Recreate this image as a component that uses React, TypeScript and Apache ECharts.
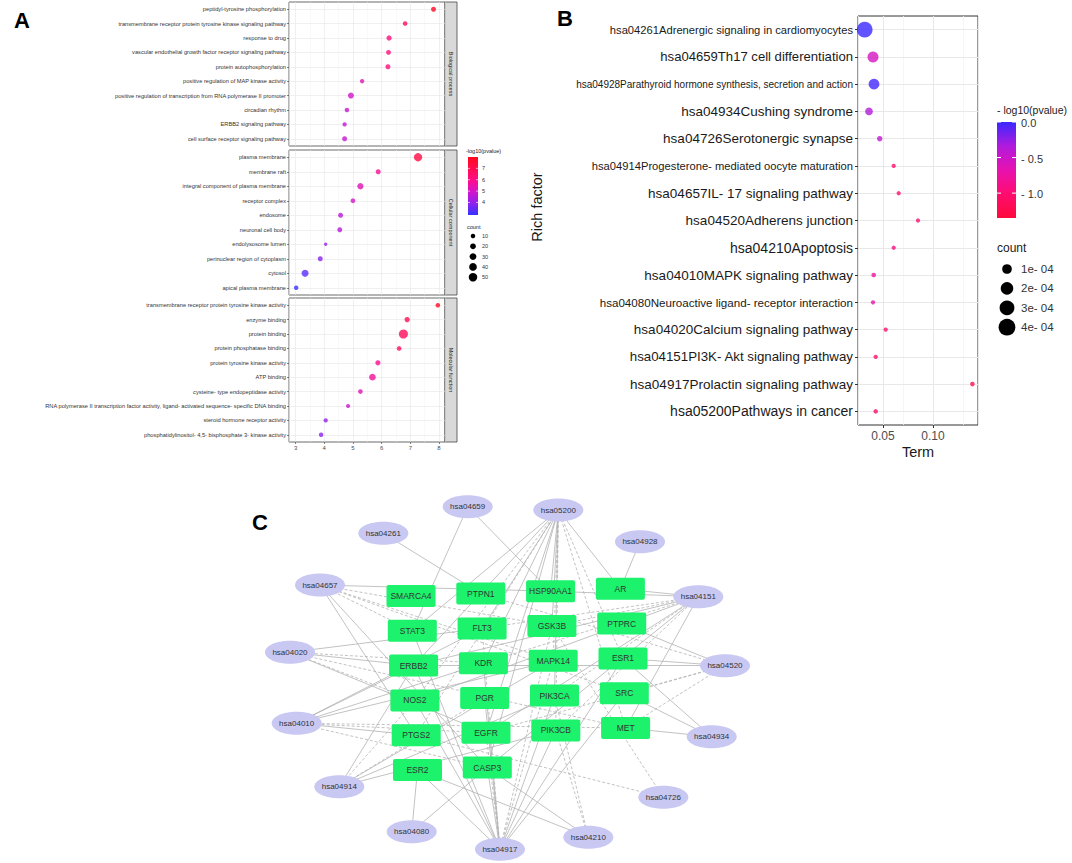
import React, { useEffect, useRef } from 'react';
import * as echarts from 'echarts';

// ---------------- Panel A data (GO enrichment) ----------------
const bpTerms = [
  'peptidyl-tyrosine phosphorylation',
  'transmembrane receptor protein tyrosine kinase signaling pathway',
  'response to drug',
  'vascular endothelial growth factor receptor signaling pathway',
  'protein autophosphorylation',
  'positive regulation of MAP kinase activity',
  'positive regulation of transcription from RNA polymerase II promoter',
  'circadian rhythm',
  'ERBB2 signaling pathway',
  'cell surface receptor signaling pathway',
];
const bpX = [7.81, 6.82, 6.26, 6.24, 6.22, 5.32, 4.93, 4.79, 4.71, 4.71];
const bpLogP = [7.81, 6.82, 6.26, 6.24, 6.22, 5.32, 4.93, 4.79, 4.71, 4.71];
const bpCount = [14, 11, 16, 12, 14, 9, 22, 10, 9, 14];

const ccTerms = [
  'plasma membrane',
  'membrane raft',
  'integral component of plasma membrane',
  'receptor complex',
  'endosome',
  'neuronal cell body',
  'endolysosome lumen',
  'perinuclear region of cytoplasm',
  'cytosol',
  'apical plasma membrane',
];
const ccX = [7.27, 5.88, 5.26, 5.0, 4.57, 4.54, 4.05, 3.86, 3.33, 3.02];
const ccLogP = [7.27, 5.88, 5.26, 5.0, 4.57, 4.54, 4.05, 3.86, 3.33, 3.02];
const ccCount = [47, 14, 25, 12, 13, 13, 3, 14, 33, 10];

const mfTerms = [
  'transmembrane receptor protein tyrosine kinase activity',
  'enzyme binding',
  'protein binding',
  'protein phosphatase binding',
  'protein tyrosine kinase activity',
  'ATP binding',
  'cysteine- type endopeptidase activity',
  'RNA polymerase II transcription factor activity, ligand- activated sequence- specific DNA binding',
  'steroid hormone receptor activity',
  'phosphatidylinositol- 4,5- bisphosphate 3- kinase activity',
];
const mfX = [7.96, 6.89, 6.76, 6.61, 5.87, 5.68, 5.26, 4.83, 4.05, 3.89];
const mfLogP = [7.96, 6.89, 6.76, 6.61, 5.87, 5.68, 5.26, 4.83, 4.05, 3.89];
const mfCount = [10, 16, 58, 11, 15, 29, 11, 8, 9, 10];

const facetLabels = ['Biological process', 'Cellular component', 'Molecular function'];
const aMinorTicks = [3.5, 4.5, 5.5, 6.5, 7.5];
const aColorTicks = [7, 6, 5, 4];
const aCountBreaks = [10, 20, 30, 40, 50];

// ---------------- Panel B data (KEGG enrichment) ----------------
const keggTerms = [
  'hsa04261Adrenergic signaling in cardiomyocytes',
  'hsa04659Th17 cell differentiation',
  'hsa04928Parathyroid hormone synthesis, secretion and action',
  'hsa04934Cushing syndrome',
  'hsa04726Serotonergic synapse',
  'hsa04914Progesterone- mediated oocyte maturation',
  'hsa04657IL- 17 signaling pathway',
  'hsa04520Adherens junction',
  'hsa04210Apoptosis',
  'hsa04010MAPK signaling pathway',
  'hsa04080Neuroactive ligand- receptor interaction',
  'hsa04020Calcium signaling pathway',
  'hsa04151PI3K- Akt signaling pathway',
  'hsa04917Prolactin signaling pathway',
  'hsa05200Pathways in cancer',
];
const keggRich = [0.0317, 0.040, 0.041, 0.036, 0.0467, 0.0607, 0.0657, 0.085, 0.0607, 0.0407, 0.040, 0.0527, 0.0427, 0.1394, 0.0427];
const keggLogP = [0.0, -0.55, -0.02, -0.35, -0.42, -1.05, -1.05, -1.0, -0.95, -0.8, -0.72, -1.05, -1.05, -1.2, -1.05];
const keggCount = [4.3e-4, 2.0e-4, 1.9e-4, 0.9e-4, 0.35e-4, 0.15e-4, 0.15e-4, 0.15e-4, 0.15e-4, 0.2e-4, 0.15e-4, 0.15e-4, 0.15e-4, 0.2e-4, 0.2e-4];
const bMinorTicks = [0.075, 0.125];
const bColorTicks = [0, -0.5, -1.0];
const bColorLabels = ['0.0', '- 0.5', '- 1.0'];
const bCountBreaks = [1e-4, 2e-4, 3e-4, 4e-4];
const bCountLabels = ['1e- 04', '2e- 04', '3e- 04', '4e- 04'];

// ---------------- Panel C data (network) ----------------
const pathways = ['hsa04659', 'hsa05200', 'hsa04261', 'hsa04928', 'hsa04657', 'hsa04151', 'hsa04020', 'hsa04520', 'hsa04010', 'hsa04934', 'hsa04914', 'hsa04726', 'hsa04080', 'hsa04210', 'hsa04917'];
const pathwayLayout = [
  [227.7, 16.7], [318.3, 20], [143.3, 43.3], [400, 51.7], [80, 95], [458.3, 106.7], [50, 162.3], [485, 175.7],
  [56.7, 233.3], [471.7, 246.7], [99.3, 296.7], [423.3, 307.3], [171.7, 341.7], [348.3, 347.3], [260, 359.3],
];
const genes = ['SMARCA4', 'PTPN1', 'HSP90AA1', 'AR', 'STAT3', 'FLT3', 'GSK3B', 'PTPRC', 'ERBB2', 'KDR', 'MAPK14', 'ESR1', 'NOS2', 'PGR', 'PIK3CA', 'SRC', 'PTGS2', 'EGFR', 'PIK3CB', 'MET', 'ESR2', 'CASP3'];
const edges: [string, string, number][] = [
  ['hsa04261', 'PTPN1', 0],
  ['hsa04659', 'STAT3', 0], ['hsa04659', 'HSP90AA1', 0],
  ['hsa05200', 'STAT3', 0], ['hsa05200', 'FLT3', 0], ['hsa05200', 'ERBB2', 0], ['hsa05200', 'PTGS2', 1], ['hsa05200', 'NOS2', 1],
  ['hsa05200', 'HSP90AA1', 0], ['hsa05200', 'GSK3B', 0], ['hsa05200', 'MAPK14', 1], ['hsa05200', 'PIK3CA', 0], ['hsa05200', 'PIK3CB', 1],
  ['hsa05200', 'AR', 0], ['hsa05200', 'ESR1', 1], ['hsa05200', 'MET', 1], ['hsa05200', 'CASP3', 0], ['hsa05200', 'EGFR', 0], ['hsa05200', 'KDR', 0],
  ['hsa04928', 'AR', 0],
  ['hsa04657', 'HSP90AA1', 0], ['hsa04657', 'GSK3B', 1], ['hsa04657', 'MAPK14', 1], ['hsa04657', 'PTGS2', 0], ['hsa04657', 'CASP3', 0],
  ['hsa04657', 'SRC', 1], ['hsa04657', 'STAT3', 1],
  ['hsa04151', 'PIK3CA', 1], ['hsa04151', 'PIK3CB', 1], ['hsa04151', 'EGFR', 0], ['hsa04151', 'ERBB2', 0], ['hsa04151', 'KDR', 1],
  ['hsa04151', 'FLT3', 1], ['hsa04151', 'MET', 0], ['hsa04151', 'GSK3B', 1], ['hsa04151', 'HSP90AA1', 0], ['hsa04151', 'NOS2', 0],
  ['hsa04151', 'CASP3', 0], ['hsa04151', 'AR', 0],
  ['hsa04020', 'ERBB2', 0], ['hsa04020', 'NOS2', 1], ['hsa04020', 'EGFR', 0], ['hsa04020', 'KDR', 1], ['hsa04020', 'FLT3', 0], ['hsa04020', 'MET', 1],
  ['hsa04520', 'ESR1', 0], ['hsa04520', 'EGFR', 1], ['hsa04520', 'ERBB2', 0], ['hsa04520', 'MET', 1], ['hsa04520', 'SRC', 1],
  ['hsa04520', 'PTPN1', 1], ['hsa04520', 'PTPRC', 0],
  ['hsa04010', 'ERBB2', 0], ['hsa04010', 'EGFR', 1], ['hsa04010', 'KDR', 0], ['hsa04010', 'FLT3', 0], ['hsa04010', 'MET', 1],
  ['hsa04010', 'MAPK14', 0], ['hsa04010', 'CASP3', 1], ['hsa04010', 'PTGS2', 0],
  ['hsa04934', 'MET', 0], ['hsa04934', 'SRC', 0], ['hsa04934', 'ESR1', 0],
  ['hsa04914', 'PGR', 1], ['hsa04914', 'PIK3CA', 0], ['hsa04914', 'PIK3CB', 0], ['hsa04914', 'MAPK14', 0], ['hsa04914', 'NOS2', 1], ['hsa04914', 'ERBB2', 0],
  ['hsa04726', 'PTGS2', 1], ['hsa04726', 'GSK3B', 1],
  ['hsa04080', 'ESR2', 0], ['hsa04080', 'CASP3', 0],
  ['hsa04210', 'CASP3', 0], ['hsa04210', 'PIK3CA', 1], ['hsa04210', 'PIK3CB', 1], ['hsa04210', 'ESR2', 0],
  ['hsa04917', 'ESR1', 0], ['hsa04917', 'ESR2', 0], ['hsa04917', 'STAT3', 0], ['hsa04917', 'GSK3B', 1], ['hsa04917', 'MAPK14', 1],
  ['hsa04917', 'PIK3CA', 0], ['hsa04917', 'PIK3CB', 0], ['hsa04917', 'SRC', 0], ['hsa04917', 'PGR', 0], ['hsa04917', 'EGFR', 1],
  ['hsa04917', 'CASP3', 0], ['hsa04917', 'ERBB2', 0], ['hsa04917', 'NOS2', 0], ['hsa04917', 'KDR', 0], ['hsa04917', 'FLT3', 1],
];

// ---------------- styling ----------------
const FONT = "'Liberation Sans', Arial, Helvetica, sans-serif";
const aColors = ['#3333ff', '#8f22ee', '#d214cc', '#ff0c8a', '#ff0c50', '#ff0a1e'];
const bColors = ['#ff0a3c', '#ff0c70', '#e812b0', '#b01adc', '#3a28ff'];
// per-label font sizes of the KEGG axis labels (the reference sets them unevenly)
const keggLabelFont = [11.2, 13.1, 10, 13.5, 13.5, 11.2, 13.5, 13.5, 14, 13.5, 11.6, 13.5, 13.3, 13.5, 14];
const A_MIN = 2.9, A_MAX = 8.0, B_MIN = -1.35, B_MAX = 0;
const sizeA = (c: number) => Math.sqrt(7.25 + 1.3 * c);
const sizeB = (c: number) => Math.sqrt(10 + 55 * c * 1e4);
const ELLIPSE = 'path://M0,50 C0,22 22,0 50,0 C78,0 100,22 100,50 C100,78 78,100 50,100 C22,100 0,78 0,50 Z';
const BOX = 'path://M2,0 L47,0 Q49,0 49,2 L49,20 Q49,22 47,22 L2,22 Q0,22 0,20 L0,2 Q0,0 2,0 Z';

function buildOption() {
  const facets = [
    { terms: bpTerms, x: bpX, p: bpLogP, n: bpCount },
    { terms: ccTerms, x: ccX, p: ccLogP, n: ccCount },
    { terms: mfTerms, x: mfX, p: mfLogP, n: mfCount },
  ];
  const fTop = [2, 150, 298];
  const fH = [144, 145, 144];
  const A_LEFT = 289, A_W = 156;

  const grid: any[] = facets.map((_, i) => ({
    left: A_LEFT, top: fTop[i], width: A_W, height: fH[i], show: true,
    borderColor: '#444', borderWidth: 0.8, backgroundColor: '#fff',
  }));
  grid.push({ left: 858, top: 16, width: 120, height: 409, show: true, borderColor: '#333', borderWidth: 1, backgroundColor: '#fff' });
  grid.push({ left: 240, top: 490, width: 520, height: 370, show: false });

  const xAxis: any[] = facets.map((_, i) => ({
    gridIndex: i, type: 'value', min: 2.77, max: 8.21, splitNumber: 5,
    axisLine: { show: false },
    axisTick: { show: i === 2, length: 2, lineStyle: { color: '#333', width: 0.6 } },
    axisLabel: { show: i === 2, fontSize: 6, color: '#4d4d4d', margin: 3, showMinLabel: false, showMaxLabel: false, fontFamily: FONT },
    splitLine: { show: true, lineStyle: { color: '#e6e6e6', width: 0.6 } },
  }));
  xAxis.push({
    gridIndex: 3, type: 'value', min: 0.025, max: 0.145, splitNumber: 2,
    axisLine: { show: false },
    axisTick: { show: true, length: 3, lineStyle: { color: '#333', width: 1 } },
    axisLabel: { fontSize: 12, color: '#4d4d4d', margin: 5, showMinLabel: false, showMaxLabel: false, fontFamily: FONT, formatter: (v: number) => v.toFixed(2) },
    splitLine: { show: true, lineStyle: { color: '#e8e8e8', width: 1 } },
  });
  xAxis.push({ gridIndex: 4, type: 'value', min: 0, max: 520, show: false });

  const yAxis: any[] = facets.map((f, i) => ({
    gridIndex: i, type: 'category', data: f.terms, inverse: true,
    axisLine: { show: false },
    axisTick: { show: true, alignWithLabel: true, length: 2, lineStyle: { color: '#333', width: 0.6 } },
    axisLabel: { fontSize: 5.7, color: '#333', margin: 3, interval: 0, fontFamily: FONT },
    splitLine: { show: false },
  }));
  const rich: any = {};
  keggLabelFont.forEach((s, i) => { rich['s' + i] = { fontSize: s, color: '#1a1a1a', fontFamily: FONT }; });
  yAxis.push({
    gridIndex: 3, type: 'category', data: keggTerms, inverse: true,
    axisLine: { show: false },
    axisTick: { show: true, alignWithLabel: true, length: 3, lineStyle: { color: '#333', width: 1 } },
    axisLabel: { fontSize: 12, color: '#1a1a1a', margin: 5, interval: 0, fontFamily: FONT, formatter: (v: string, i: number) => `{s${i}|${v}}`, rich },
    splitLine: { show: false },
  });
  yAxis.push({ gridIndex: 4, type: 'value', min: 0, max: 370, inverse: true, show: false });

  const series: any[] = [];
  facets.forEach((f, i) => {
    series.push({
      type: 'scatter', xAxisIndex: i, yAxisIndex: i, z: 6, silent: true,
      data: f.x.map((x, j) => [x, j, f.p[j], f.n[j]]),
      symbolSize: (v: number[]) => sizeA(v[3]),
    });
  });
  series.push({
    type: 'scatter', xAxisIndex: 3, yAxisIndex: 3, z: 6, silent: true,
    data: keggRich.map((x, j) => [x, j, keggLogP[j], keggCount[j]]),
    symbolSize: (v: number[]) => sizeB(v[3]),
  });
  const mlBase = { silent: true, symbol: ['none', 'none'], label: { show: false }, emphasis: { disabled: true }, animation: false, z: 1 };
  facets.forEach((f, i) => {
    series.push({
      type: 'scatter', xAxisIndex: i, yAxisIndex: i, data: [], z: 1, silent: true,
      markLine: {
        ...mlBase,
        lineStyle: { color: '#f2f2f2', width: 0.5, type: 'solid' },
        data: [
          ...aMinorTicks.map((v) => ({ xAxis: v })),
          ...f.terms.map((_, j) => ({ yAxis: j, lineStyle: { color: '#e6e6e6', width: 0.6, type: 'solid' } })),
        ],
      },
    });
  });
  series.push({
    type: 'scatter', xAxisIndex: 3, yAxisIndex: 3, data: [], z: 1, silent: true,
    markLine: {
      ...mlBase,
      lineStyle: { color: '#f4f4f4', width: 0.8, type: 'solid' },
      data: [
        ...bMinorTicks.map((v) => ({ xAxis: v })),
        ...keggTerms.map((_, j) => ({ yAxis: j, lineStyle: { color: '#e8e8e8', width: 1, type: 'solid' } })),
      ],
    },
  });

  const nodes: any[] = [
    ...pathways.map((p, i) => ({
      name: p, value: pathwayLayout[i], symbol: ELLIPSE, symbolSize: [50, 23],
      itemStyle: { color: '#c8c8f3' },
      label: { show: true, position: 'inside', fontSize: 8, color: '#333', fontFamily: FONT },
    })),
    ...genes.map((g, i) => {
      const c = i % 4, r = Math.floor(i / 4);
      return {
        name: g, value: [171 + 69.8 * c + 1.3 * r, 106 - 2.4 * c + 34.8 * r], symbol: BOX, symbolSize: [49, 22],
        itemStyle: { color: '#1cf26c' },
        label: { show: true, position: 'inside', fontSize: 8.5, color: '#333', fontFamily: FONT },
      };
    }),
  ];
  series.push({
    type: 'graph', coordinateSystem: 'cartesian2d', xAxisIndex: 4, yAxisIndex: 4, layout: 'none', silent: true,
    data: nodes,
    links: edges.map(([s, t, d]) => ({ source: s, target: t, lineStyle: { type: d ? [3, 2] : 'solid' } })),
    lineStyle: { color: '#b3b3b3', width: 0.8, opacity: 1, curveness: 0 },
    emphasis: { disabled: true },
    z: 3,
  });

  // ---------- graphic: strips, legends, titles ----------
  const graphic: any[] = [];
  const txt = (x: number, y: number, text: string, fontSize: number, extra: any = {}) => ({
    type: 'text', x, y, silent: true,
    style: { text, fontSize, fontFamily: FONT, fill: '#1a1a1a', align: 'left', verticalAlign: 'middle', ...extra },
  });
  graphic.push(txt(14, 20, 'A', 22, { fontWeight: 'bold', fill: '#000' }));
  graphic.push(txt(557, 18, 'B', 22, { fontWeight: 'bold', fill: '#000' }));
  graphic.push(txt(252, 522, 'C', 22, { fontWeight: 'bold', fill: '#000' }));

  facets.forEach((_, i) => {
    graphic.push({ type: 'rect', silent: true, shape: { x: A_LEFT + A_W, y: fTop[i], width: 12, height: fH[i] }, style: { fill: '#d9d9d9', stroke: '#444', lineWidth: 0.8 } });
    graphic.push({
      type: 'text', silent: true, x: A_LEFT + A_W + 6, y: fTop[i] + fH[i] / 2, rotation: -Math.PI / 2,
      style: { text: facetLabels[i], fontSize: 5.5, fontFamily: FONT, fill: '#1a1a1a', align: 'center', verticalAlign: 'middle' },
    });
  });

  const stopsOf = (cols: string[], reverse: boolean) => {
    const c = reverse ? [...cols].reverse() : cols;
    return c.map((color, k) => ({ offset: k / (c.length - 1), color }));
  };
  // Legend A
  const aBarX = 468, aBarY = 157, aBarW = 10, aBarH = 58;
  graphic.push(txt(466, 151, '-log10(pvalue)', 5.5));
  graphic.push({ type: 'rect', silent: true, shape: { x: aBarX, y: aBarY, width: aBarW, height: aBarH },
    style: { fill: { type: 'linear', x: 0, y: 0, x2: 0, y2: 1, colorStops: stopsOf(aColors, true) } } });
  aColorTicks.forEach((v) => {
    const y = aBarY + ((A_MAX - v) / (A_MAX - A_MIN)) * aBarH;
    graphic.push({ type: 'line', silent: true, shape: { x1: aBarX, y1: y, x2: aBarX + 2, y2: y }, style: { stroke: '#fff', lineWidth: 0.6 } });
    graphic.push({ type: 'line', silent: true, shape: { x1: aBarX + aBarW - 2, y1: y, x2: aBarX + aBarW, y2: y }, style: { stroke: '#fff', lineWidth: 0.6 } });
    graphic.push(txt(482, y, String(v), 5.5, { fill: '#333' }));
  });
  graphic.push(txt(467, 227, 'count', 5.5));
  aCountBreaks.forEach((c, k) => {
    const y = 236 + k * 10.3;
    graphic.push({ type: 'circle', silent: true, shape: { cx: 473, cy: y, r: sizeA(c) / 2 }, style: { fill: '#000' } });
    graphic.push(txt(482, y, String(c), 5.5, { fill: '#333' }));
  });

  // Legend B
  const bBarX = 997, bBarY = 122, bBarW = 19, bBarH = 96;
  graphic.push(txt(997, 110, '- log10(pvalue)', 10.5));
  graphic.push({ type: 'rect', silent: true, shape: { x: bBarX, y: bBarY, width: bBarW, height: bBarH },
    style: { fill: { type: 'linear', x: 0, y: 0, x2: 0, y2: 1, colorStops: stopsOf(bColors, true) } } });
  bColorTicks.forEach((v, k) => {
    const y = bBarY + ((B_MAX - v) / (B_MAX - B_MIN)) * bBarH;
    graphic.push({ type: 'line', silent: true, shape: { x1: bBarX, y1: y, x2: bBarX + 4, y2: y }, style: { stroke: '#fff', lineWidth: 1 } });
    graphic.push({ type: 'line', silent: true, shape: { x1: bBarX + bBarW - 4, y1: y, x2: bBarX + bBarW, y2: y }, style: { stroke: '#fff', lineWidth: 1 } });
    graphic.push(txt(1021, y + 1, bColorLabels[k], 11, { fill: '#333' }));
  });
  graphic.push(txt(997, 248, 'count', 12));
  bCountBreaks.forEach((c, k) => {
    const y = 269 + k * 19.4;
    graphic.push({ type: 'circle', silent: true, shape: { cx: 1007, cy: y, r: sizeB(c) / 2 + 0.8 }, style: { fill: '#000' } });
    graphic.push(txt(1021, y, bCountLabels[k], 11.5, { fill: '#333' }));
  });
  graphic.push({
    type: 'text', silent: true, x: 537, y: 207, rotation: Math.PI / 2,
    style: { text: 'Rich factor', fontSize: 14.5, fontFamily: FONT, fill: '#1a1a1a', align: 'center', verticalAlign: 'middle' },
  });
  graphic.push(txt(918, 452, 'Term', 14.5, { align: 'center' }));

  return {
    animation: false,
    backgroundColor: '#fff',
    textStyle: { fontFamily: FONT },
    grid, xAxis, yAxis, series, graphic,
    visualMap: [
      { type: 'continuous', show: false, seriesIndex: [0, 1, 2], dimension: 2, min: A_MIN, max: A_MAX, inRange: { color: aColors } },
      { type: 'continuous', show: false, seriesIndex: [3], dimension: 2, min: B_MIN, max: B_MAX, inRange: { color: bColors } },
    ],
  };
}

export default function App() {
  const ref = useRef<HTMLDivElement>(null);
  useEffect(() => {
    document.body.style.margin = '0';
    if (!ref.current) return;
    const chart = echarts.init(ref.current, undefined, { renderer: 'svg' });
    chart.setOption(buildOption() as any);
    return () => chart.dispose();
  }, []);
  return <div ref={ref} style={{ width: 1072, height: 863 }} />;
}
